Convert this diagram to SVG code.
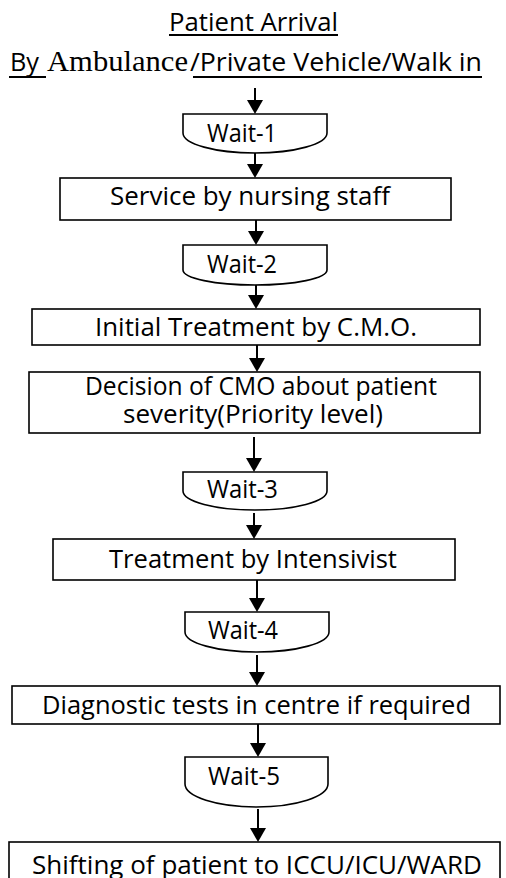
<svg xmlns="http://www.w3.org/2000/svg" width="506" height="878" viewBox="0 0 506 878">
<defs>
<style>
.t{font-family:"Open Sans","Liberation Sans",sans-serif;font-size:26px;fill:#000}
.s{font-family:"Liberation Serif","Times New Roman",serif;font-size:30px;fill:#000}
.b{fill:#fff;stroke:#000;stroke-width:1.6}
.c{fill:none;stroke:#000;stroke-width:2;marker-end:url(#ah)}
.u{stroke:#000;stroke-width:2}
</style>
<marker id="ah" markerUnits="userSpaceOnUse" viewBox="0 0 14 16" refX="10" refY="8" markerWidth="14" markerHeight="16" orient="auto"><path d="M0,0 L14,8 L0,16 Z" fill="#000"/></marker>
</defs>
<rect width="506" height="878" fill="#fff"/>
<g id="title">
<text class="t" x="169" y="31" textLength="169" lengthAdjust="spacingAndGlyphs">Patient Arrival</text>
<line class="u" x1="169" y1="35" x2="338" y2="35"/>
<text class="t" x="10" y="71" textLength="29" lengthAdjust="spacingAndGlyphs">By</text>
<text class="s" x="47" y="71" textLength="141" lengthAdjust="spacingAndGlyphs">Ambulance</text>
<text class="t" x="190" y="71" textLength="292" lengthAdjust="spacingAndGlyphs">/Private Vehicle/Walk in</text>
<line class="u" x1="9" y1="77" x2="46" y2="77"/>
<line class="u" x1="193" y1="77" x2="482" y2="77"/>
</g>
<g id="connectors">
<path class="c" d="M255,88 V110"/>
<path class="c" d="M255,153 V174"/>
<path class="c" d="M256,220 V241"/>
<path class="c" d="M256,285 V305"/>
<path class="c" d="M257,340 V368"/>
<path class="c" d="M254,437 V468"/>
<path class="c" d="M254,513 V535"/>
<path class="c" d="M257,580 V608"/>
<path class="c" d="M257,655 V682"/>
<path class="c" d="M258,724 V753"/>
<path class="c" d="M258,809 V838"/>
</g>
<g id="wait1">
<path class="b" d="M183,114 H327 V133 A72,20 0 0 1 183,133 Z"/>
<text class="t" x="207" y="142" textLength="70" lengthAdjust="spacingAndGlyphs">Wait-1</text>
</g>
<g id="service">
<rect class="b" x="60" y="178" width="391" height="42"/>
<text class="t" x="110" y="205" textLength="280" lengthAdjust="spacingAndGlyphs">Service by nursing staff</text>
</g>
<g id="wait2">
<path class="b" d="M183,245 H327 V270 A72,15 0 0 1 183,270 Z"/>
<text class="t" x="207" y="273" textLength="70" lengthAdjust="spacingAndGlyphs">Wait-2</text>
</g>
<g id="initial">
<rect class="b" x="32" y="309" width="448" height="36"/>
<text class="t" x="95" y="336" textLength="322" lengthAdjust="spacingAndGlyphs">Initial Treatment by C.M.O.</text>
</g>
<g id="decision">
<rect class="b" x="29" y="372" width="451" height="61"/>
<text class="t" x="85" y="395" textLength="352" lengthAdjust="spacingAndGlyphs">Decision of CMO about patient</text>
<text class="t" x="123" y="423" textLength="260" lengthAdjust="spacingAndGlyphs">severity(Priority level)</text>
</g>
<g id="wait3">
<path class="b" d="M183,472 H327 V491 A72,19 0 0 1 183,491 Z"/>
<text class="t" x="207" y="498" textLength="71" lengthAdjust="spacingAndGlyphs">Wait-3</text>
</g>
<g id="intensivist">
<rect class="b" x="53" y="539" width="402" height="41"/>
<text class="t" x="109" y="568" textLength="288" lengthAdjust="spacingAndGlyphs">Treatment by Intensivist</text>
</g>
<g id="wait4">
<path class="b" d="M185,612 H329 V632 A72,20 0 0 1 185,632 Z"/>
<text class="t" x="208" y="639" textLength="70" lengthAdjust="spacingAndGlyphs">Wait-4</text>
</g>
<g id="diagnostic">
<rect class="b" x="12" y="686" width="488" height="38"/>
<text class="t" x="42" y="714" textLength="429" lengthAdjust="spacingAndGlyphs">Diagnostic tests in centre if required</text>
</g>
<g id="wait5">
<path class="b" d="M185,757 H328 V784 A71.5,23 0 0 1 185,784 Z"/>
<text class="t" x="208" y="785" textLength="72" lengthAdjust="spacingAndGlyphs">Wait-5</text>
</g>
<g id="shifting">
<rect class="b" x="9" y="842" width="491" height="50"/>
<text class="t" x="32" y="874" textLength="450" lengthAdjust="spacingAndGlyphs">Shifting of patient to ICCU/ICU/WARD</text>
</g>
</svg>
